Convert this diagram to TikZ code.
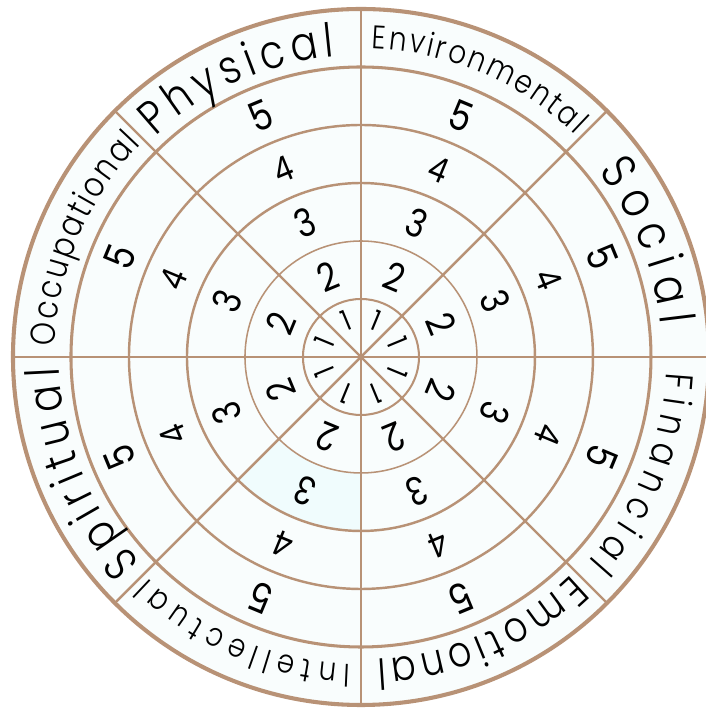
\documentclass[tikz,border=0pt]{standalone}
\usepackage{fontspec}
\newfontfamily\handfont{Poppins Light}[FakeStretch=0.85]
\newfontfamily\digitfont{Poppins}[FakeStretch=0.85]
\usepackage{tikz}
\usetikzlibrary{decorations.text}
\definecolor{ringbrown}{RGB}{184,146,118}
\definecolor{wheelfill}{RGB}{249,253,253}
\definecolor{cellblue}{RGB}{240,252,253}

\begin{document}
\begin{tikzpicture}[
  ringline/.style={draw=ringbrown, line width=1.2pt},
  digit/.style={inner sep=0pt, text=black},
  labelarc/.style={decorate, decoration={text along path, text align={fit to path}, text={#1}}},
]
\useasboundingbox (-6.224,-6.052) rectangle (5.948,6.155);
\coordinate (c) at (0,0);
% Wheel background
\fill[wheelfill] (c) circle (6);
% Tinted cell (Intellectual, level 3)
\fill[cellblue] (-135:2) arc[start angle=-135, end angle=-90, radius=2] -- (-90:3) arc[start angle=-90, end angle=-135, radius=3] -- cycle;
% Rings
\draw[ringbrown, line width=1pt] (c) circle (1);
\draw[ringbrown, line width=0.75pt] (c) circle (2);
\draw[ringline] (c) circle (3);
\draw[ringline] (c) circle (4);
\draw[ringbrown, line width=1.5pt] (c) circle (5);
\draw[ringbrown, line width=2pt] (c) circle (6);
% Spokes
\foreach \a in {0,45,...,315}
  \draw[ringline] (c) -- (\a:6);
% Levels
\foreach \n/\r/\s in {1/0.68/14,2/1.5/19,3/2.5/19,4/3.5/17,5/4.5/20}
  \foreach \a [count=\k] in {22.5,67.5,...,337.5}
    \node[digit, font=\digitfont\fontsize{\s}{\s}\selectfont, rotate=\a-90] (num\n-\k) at (\a:\r) {\n};
% Dimension names
\path[labelarc={|\handfont\fontsize{23}{23}\selectfont|Physical}] (133:5.2) arc[start angle=133, end angle=95, radius=5.2];
\path[labelarc={|\handfont\fontsize{16}{16}\selectfont|Environmental}] (88:5.32) arc[start angle=88, end angle=46, radius=5.32];
\path[labelarc={|\handfont\fontsize{24}{24}\selectfont|Social}] (38:5.2) arc[start angle=38, end angle=6, radius=5.2];
\path[labelarc={|\handfont\fontsize{19}{19}\selectfont|Financial}] (-3:5.27) arc[start angle=-3, end angle=-42, radius=5.27];
\path[labelarc={|\handfont\fontsize{21}{21}\selectfont|Emotional}] (-46:5.22) arc[start angle=-46, end angle=-87, radius=5.22];
\path[labelarc={|\handfont\fontsize{16}{16}\selectfont|Intellectual}] (-92:5.3) arc[start angle=-92, end angle=-134, radius=5.3];
\path[labelarc={|\handfont\fontsize{23}{23}\selectfont|Spiritual}] (-137:5.2) arc[start angle=-137, end angle=-178, radius=5.2];
\path[labelarc={|\handfont\fontsize{17}{17}\selectfont|Occupational}] (178:5.28) arc[start angle=178, end angle=136, radius=5.28];
\end{tikzpicture}
\end{document}
